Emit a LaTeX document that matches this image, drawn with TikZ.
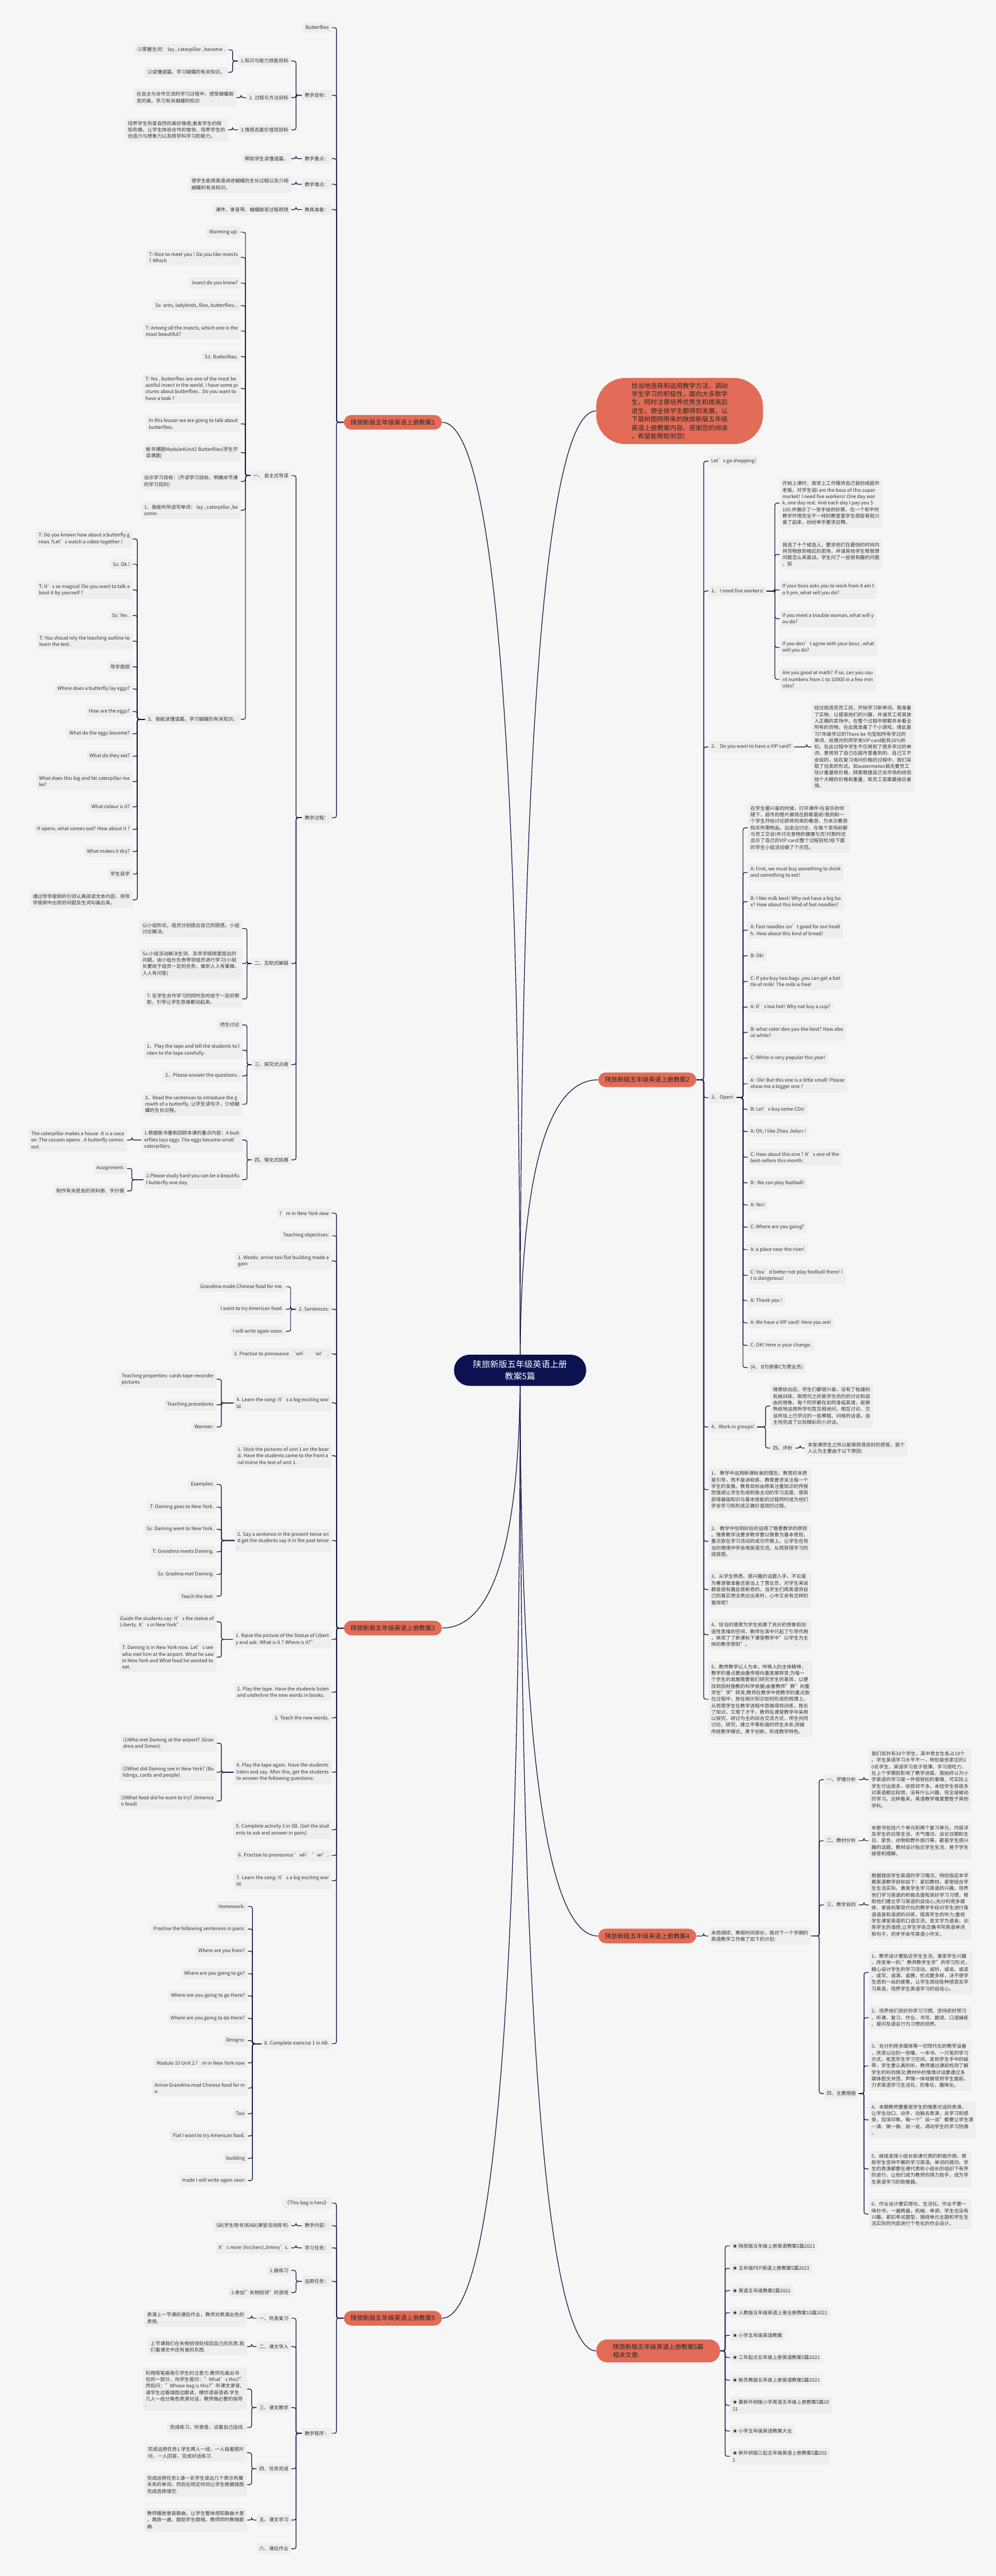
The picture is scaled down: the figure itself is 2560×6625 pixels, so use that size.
\documentclass[tikz,border=0pt]{standalone}
\usepackage{fontspec}
\setmainfont{Noto Sans CJK SC}
\pgfdeclarelayer{bg}
\pgfsetlayers{bg,main}

\definecolor{bgc}{HTML}{F6F6F6}
\definecolor{boxc}{HTML}{EEEEEE}
\definecolor{navy}{HTML}{0C1250}
\definecolor{linec}{HTML}{1C2150}
\definecolor{redc}{HTML}{E26C57}
\definecolor{txt}{HTML}{333333}

\tikzset{
  leaf/.style={fill=boxc, rounded corners=2.5pt, inner xsep=4pt, inner ysep=4.6pt,
    align=left, text=txt, font=\fontsize{7.1}{9.5}\selectfont},
  topic/.style={fill=redc, rounded corners=11pt, inner xsep=10pt, inner ysep=6.5pt,
    text=black!85, font=\fontsize{9.1}{12.2}\selectfont},
  link/.style={draw=linec, line width=1.1pt, rounded corners=3pt},
  trunk/.style={draw=linec, line width=1.1pt},
}

\begin{document}
\begin{tikzpicture}[x=0.02cm,y=-0.02cm]
\useasboundingbox (0,0) rectangle (2560,6625);

% centre and intro
\node[fill=navy, text=white, rounded corners=0.8cm, minimum width=6.8cm, minimum height=1.6cm,
  align=center, font=\fontsize{12.5}{16.7}\selectfont] (root) at (1337,3524) {陕旅新版五年级英语上册\\教案5篇};
\node[fill=redc, rounded corners=1.5cm, minimum width=8.58cm, minimum height=3.4cm, align=left,
  text=black!85, font=\fontsize{9.4}{12.3}\selectfont] (intro) at (1747,1057)
  {恰当地选择和运用教学方法，调动\\学生学习的积极性，面向大多数学\\生，同时注意培养优秀生和提高后\\进生，使全体学生都得到发展。以\\下是树图网带来的陕旅新版五年级\\英语上册教案内容，感谢您的阅读\\，希望能帮助到您!};

% ---- 教案1 ----
\node[topic] (lp1) at (1010,1086) {陕旅新版五年级英语上册教案1};
\node[leaf,anchor=east] (b1n1) at (853,71) {Butterflies};
\node[leaf,anchor=east] (b1n2) at (853,245) {教学目标：};
\node[leaf,anchor=east] (b1n3) at (853,408) {教学重点：};
\node[leaf,anchor=east] (b1n4) at (853,474) {教学难点：};
\node[leaf,anchor=east] (b1n5) at (853,539) {教具准备：};
\node[leaf,anchor=east] (b1n6) at (853,2103) {教学过程：};
\node[leaf,anchor=east] (g1) at (749,157) {1.知识与能力技能目标};
\node[leaf,anchor=east] (g2) at (749,251) {2. 过程与方法目标};
\node[leaf,anchor=east] (g3) at (749,334) {3.情感态度价值观目标};
\node[leaf,anchor=east] (g1a) at (586,128) {⑴掌握生词：\ lay , caterpillar , become .};
\node[leaf,anchor=east] (g1b) at (586,186) {⑵读懂语篇，学习蝴蝶的有关知识。};
\node[leaf,anchor=east] (g2a) at (608,251) {在自主与合作交流的学习过程中，感受蝴蝶蜕\\变的美，学习有关蝴蝶的知识};
\node[leaf,anchor=east] (g3a) at (586,334) {培养学生热爱自然的美好情感;激发学生的探\\知热情，让学生体验合作的愉快，培养学生的\\创造力与想象力以及跨学科学习的能力。};
\node[leaf,anchor=east] (b1n3a) at (749,408) {帮助学生读懂语篇。};
\node[leaf,anchor=east] (b1n4a) at (749,474) {使学生能用英语讲述蝴蝶的生长过程以及介绍\\蝴蝶的有关知识。};
\node[leaf,anchor=east] (b1n5a) at (749,539) {课件、录音带、蝴蝶蜕变过程视频};
\node[leaf,anchor=east] (s1) at (749,1223) {一、\ 自主式导读};
\node[leaf,anchor=east] (s2) at (749,2478) {二、互助式解疑};
\node[leaf,anchor=east] (s3) at (749,2738) {三、探究式点拨};
\node[leaf,anchor=east] (s4) at (749,2983) {四、强化式拓展};
\node[leaf,anchor=east] (w1) at (619,597) {Warming up:};
\node[leaf,anchor=east] (w2) at (619,662) {T: Nice to meet you ! Do you like insects\\? Which};
\node[leaf,anchor=east] (w3) at (619,728) {insect do you know?};
\node[leaf,anchor=east] (w4) at (619,786) {Ss: ants, ladybirds, flies, butterflies...};
\node[leaf,anchor=east] (w5) at (619,851) {T: Among all the insects, which one is the\\ most beautiful?};
\node[leaf,anchor=east] (w6) at (619,917) {S1: Butterflies.};
\node[leaf,anchor=east] (w7) at (619,999) {T: Yes , butterflies are one of the most be\\autiful insect in the world. I have some pi\\ctures about butterflies . Do you want to\\have a look ?};
\node[leaf,anchor=east] (w8) at (619,1090) {In this lesson we are going to talk about\\butterflies.};
\node[leaf,anchor=east] (w9) at (619,1164) {板书课题Module4Unit2 Butterflies(学生齐\\读课题)};
\node[leaf,anchor=east] (w10) at (619,1238) {出示学习目标：(齐读学习目标，明确本节课\\的学习目的)};
\node[leaf,anchor=east] (w11) at (619,1312) {1、我能听所读写单词：\ lay , caterpillar ,be\\come .};
\node[leaf,anchor=east] (w12) at (619,1850) {2、我能读懂语篇，学习蝴蝶的有关知识。};
\node[leaf,anchor=east] (v1) at (341,1386) {T: Do you known how about a butterfly g\\rows ?Let’s watch a video together !};
\node[leaf,anchor=east] (v2) at (341,1451) {Ss: Ok !};
\node[leaf,anchor=east] (v3) at (341,1517) {T: It’s so magical !Do you want to talk a\\bout it by yourself ?};
\node[leaf,anchor=east] (v4) at (341,1583) {Ss: Yes .};
\node[leaf,anchor=east] (v5) at (341,1649) {T: You shoud rely the teaching outline to\\learn the text .};
\node[leaf,anchor=east] (v6) at (341,1715) {导学提纲};
\node[leaf,anchor=east] (v7) at (341,1772) {Where does a butterfly lay eggs?};
\node[leaf,anchor=east] (v8) at (341,1830) {How are the eggs?};
\node[leaf,anchor=east] (v9) at (341,1887) {What do the eggs become?};
\node[leaf,anchor=east] (v10) at (341,1945) {What do they eat?};
\node[leaf,anchor=east] (v11) at (341,2010) {What does this big and fat caterpillar ma\\ke?};
\node[leaf,anchor=east] (v12) at (341,2075) {What colour is it?};
\node[leaf,anchor=east] (v13) at (341,2133) {It opens, what comes out? How about it ?};
\node[leaf,anchor=east] (v14) at (341,2190) {What makes it dry?};
\node[leaf,anchor=east] (v15) at (341,2248) {学生自学};
\node[leaf,anchor=east] (v16) at (341,2314) {通过导学提纲的引领认真阅读文本内容，将导\\学提纲中出现的问题及生词勾画出来。};
\node[leaf,anchor=east] (x1) at (623,2388) {以小组形式，组员分别提出自己的困惑，小组\\讨论解决。};
\node[leaf,anchor=east] (x2) at (623,2478) {Ss:小组活动解决生词、及导学提纲里提出的\\问题。由小组长负责带领组员进行学习(小组\\长要给于组员一定的任务，做到人人有事做、\\人人有问答)};
\node[leaf,anchor=east] (x3) at (623,2569) {T: 在学生合作学习的同时及时给于一定的帮\\助，引导让学生思维都动起来。};
\node[leaf,anchor=east] (y1) at (623,2636) {师生讨论};
\node[leaf,anchor=east] (y2) at (623,2701) {1、Play the tape and tell the students to l\\isten to the tape carefully .};
\node[leaf,anchor=east] (y3) at (623,2767) {2、Please answer the questions .};
\node[leaf,anchor=east] (y4) at (623,2840) {3、Read the sentences to introduce the g\\rowth of a butterfly..让学生读句子，介绍蝴\\蝶的生长过程。};
\node[leaf,anchor=east] (t1) at (623,2932) {1.根据板书重新回顾本课的重点内容：A butt\\erflies lays eggs .The eggs become small\\caterpillars.};
\node[leaf,anchor=east] (t2) at (623,3034) {2.Please study hard you can be a beautifu\\l butterfly one day.};
\node[leaf,anchor=east] (t1a) at (327,2932) {The caterpillar makes a house .It is a coco\\on .The cocoon opens . A butterfly comes\\ out.};
\node[leaf,anchor=east] (t2a) at (327,3005) {Assignment:};
\node[leaf,anchor=east] (t2b) at (327,3063) {制作有关昆虫的资料册、手抄报};

% ---- 教案3 ----
\node[topic] (lp3) at (1010,4187) {陕旅新版五年级英语上册教案3};
\node[leaf,anchor=east] (c1) at (853,3120) {I'm in New York now};
\node[leaf,anchor=east] (c2) at (853,3178) {Teaching objectives:};
\node[leaf,anchor=east] (c3) at (853,3243) {1. Words: arrive taxi flat building made a\\gain};
\node[leaf,anchor=east] (c4) at (853,3367) {2. Sentences:};
\node[leaf,anchor=east] (c5) at (853,3482) {3. Practise to pronounce\ \ ‘wh’\ \ \ ‘wr’ .};
\node[leaf,anchor=east] (c6) at (853,3608) {4. Learn the song: It’s a big exciting wor\\ld.};
\node[leaf,anchor=east] (c7) at (853,3744) {1. Stick the pictures of unit 1 on the boar\\d. Have the students come to the front a\\nd mime the text of unit 1.};
\node[leaf,anchor=east] (c8) at (853,3962) {2. Say a sentence in the present tense an\\d get the students say it in the past tense\\.};
\node[leaf,anchor=east] (c9) at (853,4216) {1. Raise the picture of the Statue of Libert\\y and ask: What is it ? Where is it?"};
\node[leaf,anchor=east] (c10) at (853,4352) {2. Play the tape. Have the students listen\\and underline the new words in books.};
\node[leaf,anchor=east] (c11) at (853,4418) {3. Teach the new words.};
\node[leaf,anchor=east] (c12) at (853,4558) {4. Play the tape again. Have the students\\listen and say. After this, get the students\\ to answer the following questions:};
\node[leaf,anchor=east] (c13) at (853,4706) {5. Complete activity 2 in SB. (Get the stud\\ents to ask and answer in pairs)};
\node[leaf,anchor=east] (c14) at (853,4772) {6. Practise to pronounce 'wh' 'wr'.};
\node[leaf,anchor=east] (c15) at (853,4837) {7. Learn the song: It’s a big exciting wor\\ld.};
\node[leaf,anchor=east] (c16) at (853,5256) {8. Complete exercise 1 in AB.};
\node[leaf,anchor=east] (c4a) at (735,3309) {Grandma made Chinese food for me.};
\node[leaf,anchor=east] (c4b) at (735,3367) {I want to try American food.};
\node[leaf,anchor=east] (c4c) at (735,3424) {I will write again soon.};
\node[leaf,anchor=east] (c6a) at (557,3547) {Teaching properties: cards tape-recorder\\pictures};
\node[leaf,anchor=east] (c6b) at (557,3613) {Teaching procedures};
\node[leaf,anchor=east] (c6c) at (557,3670) {Warmer:};
\node[leaf,anchor=east] (c8a) at (557,3818) {Examples:};
\node[leaf,anchor=east] (c8b) at (557,3876) {T: Daming goes to New York.};
\node[leaf,anchor=east] (c8c) at (557,3933) {Ss: Daming went to New York.};
\node[leaf,anchor=east] (c8d) at (557,3991) {T: Grandma meets Daming.};
\node[leaf,anchor=east] (c8e) at (557,4049) {Ss: Gradma met Daming.};
\node[leaf,anchor=east] (c8f) at (557,4105) {Teach the text:};
\node[leaf,anchor=east] (c9a) at (557,4171) {Guide the students say: It’s the statue of\\ Liberty. It’s in New York".};
\node[leaf,anchor=east] (c9b) at (557,4262) {T: Daming is in New York now. Let’s see\\who met him at the airport. What he saw\\in New York and What food he wanted to\\ eat.};
\node[leaf,anchor=east] (c12a) at (557,4483) {⑴Who met Daming at the airport? (Gran\\dma and Simon)};
\node[leaf,anchor=east] (c12b) at (557,4558) {⑵What did Daming see in New York? (Bu\\ildings, cards and people)};
\node[leaf,anchor=east] (c12c) at (557,4632) {⑶What food did he want to try? (America\\n food)};
\node[leaf,anchor=east] (h1) at (637,4903) {Homework:};
\node[leaf,anchor=east] (h2) at (637,4961) {Practise the following sentences in pairs:};
\node[leaf,anchor=east] (h3) at (637,5018) {Where are you from?};
\node[leaf,anchor=east] (h4) at (637,5076) {Where are you going to go?};
\node[leaf,anchor=east] (h5) at (637,5133) {Where are you going to go there?};
\node[leaf,anchor=east] (h6) at (637,5191) {Where are you going to do there?};
\node[leaf,anchor=east] (h7) at (637,5248) {Designs:};
\node[leaf,anchor=east] (h8) at (637,5305) {Module 10 Unit 2 I’m in New York now};
\node[leaf,anchor=east] (h9) at (637,5370) {Arrive Grandma mad Chinese food for m\\e.};
\node[leaf,anchor=east] (h10) at (637,5436) {Taxi};
\node[leaf,anchor=east] (h11) at (637,5493) {Flat I want to try American food.};
\node[leaf,anchor=east] (h12) at (637,5551) {building};
\node[leaf,anchor=east] (h13) at (637,5608) {made I will write again soon};

% ---- 教案5 ----
\node[topic] (lp5) at (1010,5962) {陕旅新版五年级英语上册教案5};
\node[leaf,anchor=east] (e1) at (853,5666) {《This bag is hers》};
\node[leaf,anchor=east] (e2) at (853,5724) {教学内容：};
\node[leaf,anchor=east] (e3) at (853,5781) {学习任务：};
\node[leaf,anchor=east] (e4) at (853,5867) {运用任务：};
\node[leaf,anchor=east] (e5) at (853,6258) {教学程序：};
\node[leaf,anchor=east] (e2a) at (749,5724) {SB(学生用书)和AB(课堂活动用书)};
\node[leaf,anchor=east] (e3a) at (749,5781) {It’s mine \textbackslash his\textbackslash hers\textbackslash Jimmy’s.};
\node[leaf,anchor=east] (e4a) at (749,5839) {1.做练习};
\node[leaf,anchor=east] (e4b) at (749,5896) {2.参加"失物招领"的游戏};
\node[leaf,anchor=east] (f1) at (749,5962) {一、热身复习};
\node[leaf,anchor=east] (f2) at (749,6035) {二、课文导入};
\node[leaf,anchor=east] (f3) at (749,6192) {三、课文教学};
\node[leaf,anchor=east] (f4) at (749,6349) {四、任务完成};
\node[leaf,anchor=east] (f5) at (749,6481) {五、课文学习};
\node[leaf,anchor=east] (f6) at (749,6555) {六、课后作业};
\node[leaf,anchor=east] (f1a) at (635,5962) {表演上一节课的课后作业，教师对表演出色的\\表扬.};
\node[leaf,anchor=east] (f2a) at (635,6035) {上节课我们在失物招领处找回自己的东西.我\\们看课文中还有谁的东西.};
\node[leaf,anchor=east] (f3a) at (635,6144) {利用简笔画吸引学生的注意力.教师先画出书\\包的一部分，向学生提问："What’s this?"\\然后问："Whose bag is this?"听课文录音,\\请学生边看插图边跟读，模仿语音语调.学生\\几人一组分角色表演对话，教师做必要的指导\\.};
\node[leaf,anchor=east] (f3b) at (635,6243) {完成练习，听录音，试着自己连线.};
\node[leaf,anchor=east] (f4a) at (635,6308) {完成运用任务1.学生两人一组，一人指着图片\\问，一人回答，完成对话练习.};
\node[leaf,anchor=east] (f4b) at (635,6390) {完成运用任务3.请一名学生读出几个表示所属\\关系的单词，然后在规定时间让学生根据插图\\完成选择填空.};
\node[leaf,anchor=east] (f5a) at (635,6481) {教师播放录音歌曲，让学生整体感知歌曲大意\\，再放一遍，鼓励学生跟唱，教师同时教唱歌\\曲.};

% ---- 教案2 ----
\node[topic] (lp2) at (1664,2777) {陕旅新版五年级英语上册教案2};
\node[leaf,anchor=west] (r1) at (1821,1186) {Let's go shopping!};
\node[leaf,anchor=west] (r2) at (1821,1520) {1、\ I need five workers!};
\node[leaf,anchor=west] (r3) at (1821,1921) {2、\ Do you want to have a VIP card?};
\node[leaf,anchor=west] (r4) at (1821,2823) {3、\ Open!};
\node[leaf,anchor=west] (r5) at (1821,3670) {4、Work in groups!};
\node[leaf,anchor=west] (r6) at (1821,3831) {1、 教学中运用新课标准的理念。教育的本质\\是引导，而不是讲和练，教育要求关注每一个\\学生的发展。教育目标由原来注重知识的传授\\而强调让学生形成积极主动的学习态度，使其\\获得基础知识与基本技能的过程同时成为他们\\学会学习和形成正确价值观的过程。};
\node[leaf,anchor=west] (r7) at (1821,3964) {2、 教学中恰到好处的运用了情景教学的原则\\。情景教学法要求教学要以情景为基本原则，\\重点放在学习活动的成功开展上。让学生在恰\\当的情境中学会用英语交流，从而获得学习的\\成就感。};
\node[leaf,anchor=west] (r8) at (1821,4088) {3、从学生熟悉、感兴趣的话题入手。不论是\\为春游做准备还是当上了营业员，对学生来说\\都是很有趣且很新奇的，当学生们用英语将自\\己的真实想法表达出来时，心中又会有怎样的\\喜悦呢?};
\node[leaf,anchor=west] (r9) at (1821,4204) {4、恰当的情景为学生拓展了充分的想象和创\\造性思维的空间，教师在其中只起了引导作用\\，体现了了新课标下课堂教学中"以学生为主\\体的教学原则"。};
\node[leaf,anchor=west] (r10) at (1821,4370) {5、教师教学以人为本，呼唤人的主体精神，\\教学的重点要由重传授向重发展转变;为每一\\个学生的发展需要我们研究学生的差异，以便\\找到因材施教的科学依据;由重教师"教"向重\\学生"学"转变;教师在教学中把教学的重点放\\在过程中，放在揭示知识如何形成的规律上，\\从而使学生在教学进程中思维得到训练，既长\\了知识，又增了才干。教师在课堂教学中采用\\以探究、研讨为主的综合交流方式，师生共同\\讨论、研究，建立平等和谐的师生关系;突破\\传统教学模式，勇于创新，形成教学特色。};
\node[leaf,anchor=west] (r2a) at (2004,1294) {开始上课时，我穿上工作服将自己装扮成超市\\老板。对学生说I am the boss of this super\\market! I need five workers! One day wor\\k, one day rest. And each day I pay you \$\\100.并展示了一张手绘的钞票。在一个和平时\\教学环境完全不一样的教室里学生很容易就兴\\奋了起来，纷纷举手要求应聘。};
\node[leaf,anchor=west] (r2b) at (2004,1426) {我选了十个候选人，要求他们在最快的时间内\\将货物放到相应的卖场，并请其他学生帮我想\\问题怎么来面试。学生问了一些很有趣的问题\\，如};
\node[leaf,anchor=west] (r2c) at (2004,1517) {If your boss asks you to work from 8 am t\\o 9 pm, what will you do?};
\node[leaf,anchor=west] (r2d) at (2004,1591) {If you meet a trouble woman, what will y\\ou do?};
\node[leaf,anchor=west] (r2e) at (2004,1665) {If you don’t agree with your boss , what\\ will you do?};
\node[leaf,anchor=west] (r2f) at (2004,1747) {Are you good at math? If so, can you cou\\nt numbers from 1 to 10000 in a few min\\utes?};
\node[leaf,anchor=west] (r3a) at (2086,1921) {经过挑选完员工后，开始学习新单词。我准备\\了实物，以提高他们的兴趣，并请员工将其放\\入正确的卖场中。在整个过程中顾客并未看全\\所有的货物。在此我准备了个小游戏，借此复\\习7年级学过的There be 句型和所有学过的\\单词，给猜对的同学发VIP card能有20\%折\\扣。在此过程中学生不仅用到了很多学过的单\\词，更用到了自己在超市里看到的、自己又不\\会说的，如在复习询问价格的过程中，我们采\\取了估卖的形式。如watermelon首先要员工\\估计重量和价格，顾客根据自己去市场的经验\\给个大概的价格和重量，和员工答案最接近者\\得。};
\node[leaf,anchor=west] (o1) at (1922,2129) {在学生最兴奋的时候，打开课件!在音乐的伴\\随下，超市的图片展现在顾客面前!我则和一\\个学生开始讨论即将到来的春游，为本次春游\\购买所需物品。边走边讨论，在每个卖场前都\\与员工交谈!并讨论食物的健康与否!付款时还\\出示了自己的VIP card!整个过程轻松!给下面\\的学生小组活动做了个示范。};
\node[leaf,anchor=west] (o2) at (1922,2244) {A: First, we must buy something to drink\\and something to eat!};
\node[leaf,anchor=west] (o3) at (1922,2319) {B: I like milk best! Why not have a big bo\\x? How about this kind of fast noodles?};
\node[leaf,anchor=west] (o4) at (1922,2392) {A: Fast noodles isn’t good for our healt\\h. How about this kind of bread!};
\node[leaf,anchor=west] (o5) at (1922,2458) {B: Ok!};
\node[leaf,anchor=west] (o6) at (1922,2524) {C: If you buy two bags ,you can get a bot\\tle of milk! The milk is free!};
\node[leaf,anchor=west] (o7) at (1922,2590) {A: It’s too hot! Why not buy a cup?};
\node[leaf,anchor=west] (o8) at (1922,2655) {B: what color don you like best? How abo\\ut white?};
\node[leaf,anchor=west] (o9) at (1922,2721) {C: White is very popular this year!};
\node[leaf,anchor=west] (o10) at (1922,2787) {A : Ok! But this one is a little small! Please\\ show me a bigger one ?};
\node[leaf,anchor=west] (o11) at (1922,2853) {B: Let’s buy some CDs!};
\node[leaf,anchor=west] (o12) at (1922,2910) {A: Oh, I like Zhou Jielun !};
\node[leaf,anchor=west] (o13) at (1922,2976) {C: How about this one ? It’s one of the\\best-sellers this month.};
\node[leaf,anchor=west] (o14) at (1922,3042) {B : We can play football!};
\node[leaf,anchor=west] (o15) at (1922,3099) {A: Yes!};
\node[leaf,anchor=west] (o16) at (1922,3156) {C: Where are you going?};
\node[leaf,anchor=west] (o17) at (1922,3214) {A: a place near the river!};
\node[leaf,anchor=west] (o18) at (1922,3280) {C: You’d better not play football there! I\\t is dangerous!};
\node[leaf,anchor=west] (o19) at (1922,3345) {A: Thank you !};
\node[leaf,anchor=west] (o20) at (1922,3402) {A: We have a VIP card! Here you are!};
\node[leaf,anchor=west] (o21) at (1922,3460) {C: OK! Here is your change.};
\node[leaf,anchor=west] (o22) at (1922,3517) {(A、 B为顾客C为营业员)};
\node[leaf,anchor=west] (r5a) at (1980,3616) {情景给出后，学生们都很兴奋，没有了枯燥的\\机械训练，取而代之的是学生热烈的讨论和自\\由的想象。每个同学都在如同身临其境，能够\\熟练地运用所学句型互相询问，相互讨论、交\\谈并加上已学过的一些寒暄、问候的话语，自\\主地完成了比较精彩的小对话。};
\node[leaf,anchor=west] (r5b) at (1980,3724) {四、评析};
\node[leaf,anchor=west] (r5c) at (2069,3724) {本堂课师生之所以能够获得良好的感受，我个\\人认为主要由于以下原因:};

% ---- 教案4 ----
\node[topic] (lp4) at (1664,4979) {陕旅新版五年级英语上册教案4};
\node[leaf,anchor=west] (q0) at (1821,4979) {未雨绸缪，寒假时间很长，我对下一个学期的\\英语教学工作做了如下的计划:};
\node[leaf,anchor=west] (q1) at (2118,4577) {一、学情分析};
\node[leaf,anchor=west] (q2) at (2118,4734) {二、教材分析};
\node[leaf,anchor=west] (q3) at (2118,4899) {三、教学目的};
\node[leaf,anchor=west] (q4) at (2118,5384) {四、主要措施};
\node[leaf,anchor=west] (q1a) at (2233,4577) {我们班共有38个学生，其中男女生各占19个\\。学生英语学习水平不一，特别是张家庄的1\\0名学生，英语学习底子很薄，学习很吃力，\\在上个学期就影响了教学进度。我始终认为小\\学英语的学习是一件很轻松的事情，可实际上\\学生付出很多，收获却不多。本班学生有很多\\对英语都比较烦，没有什么兴趣，完全是被动\\的学习。这样看来，英语教学难度要胜于其他\\学科。};
\node[leaf,anchor=west] (q2a) at (2233,4734) {本册书包括六个单元和两个复习单元，内容涉\\及学生的日常生活、天气情况、谈论日期和生\\日、家务、动物和野外旅行等，都是学生感兴\\趣的话题。教材设计贴近学生生活，易于学生\\接受和理解。};
\node[leaf,anchor=west] (q3a) at (2233,4899) {根据我班学生英语的学习情况，特别指定本学\\期英语教学目标如下：紧扣教材，紧密结合学\\生生活实际，激发学生学习英语的兴趣，培养\\他们学习英语的积极态度和良好学习习惯，帮\\助他们建立学习英语的自信心;充分利用多媒\\体、录音机等现代化的教学手段对学生进行英\\语语音和语调的训练，提高学生的听力;重视\\学生课堂英语的口语交流，变文字为语音，训\\练学生的语感;让学生学会正确书写英语单词\\和句子，初步学会写英语小作文。};
\node[leaf,anchor=west] (q4a) at (2233,5073) {1、教学设计要贴近学生生活，激发学生兴趣\\。改变单一的."教师教学生学"的学习形式，\\精心设计学生的学习活动。或听、或说、或读\\、或写、或演、或赛，形式要多样，决不使学\\生感到一丝的疲惫。让学生调动各种感官去学\\习英语，培养学生英语学习的自信心。};
\node[leaf,anchor=west] (q4b) at (2233,5189) {2、培养他们良好的学习习惯。坚持抓好预习\\、听课、复习、作业、书写、朗读、口语操练\\、提问及语言行为习惯的培养。};
\node[leaf,anchor=west] (q4c) at (2233,5313) {3、充分利用多媒体等一切现代化的教学设备\\，改变以往的一张嘴、一本书、一只笔的学习\\方式，拓宽学生学习空间。发到学生手中的磁\\带，学生要认真的听，教师通过课前检测了解\\学生的听的情况;教材中的情境对话要通过多\\媒体图文并茂、声情一体地展现到学生面前。\\力求英语学习生活化、形象化、趣味化。};
\node[leaf,anchor=west] (q4d) at (2233,5452) {4、本期教师要重视学生的情景对话的表演，\\让学生动口、动手、动脑去表演，去学习和感\\受，加深印象。每一个"谈一谈"都要让学生演\\一演、做一做、说一说，调动学生的学习热情\\。};
\node[leaf,anchor=west] (q4e) at (2233,5578) {5、继续发挥小组长和课代表的积极作用，帮\\助学生坚持不懈的学习英语。单词的提问、学\\生的表演都要在课代表和小组长的组织下有序\\的进行，让他们成为教师的得力助手，成为学\\生英语学习的助推器。};
\node[leaf,anchor=west] (q4f) at (2233,5694) {6、作业设计要实用化、生活化。作业不要一\\味抄书，一遍两遍，机械、单调，学生也没有\\兴趣。紧扣考试题型，围绕单元主题和学生生\\活实际的内容进行个性化的作业设计。};

% ---- related ----
\node[topic, align=left, rounded corners=16pt, minimum width=6.36cm, minimum height=1.18cm] (rel) at (1692,6046) {陕旅新版五年级英语上册教案5篇\\相关文章:};
\node[leaf,anchor=west] (k1) at (1876,5776) {★ 陕旅版五年级上册英语教案5篇2021};
\node[leaf,anchor=west] (k2) at (1876,5834) {★ 五年级PEP英语上册教案5篇2021};
\node[leaf,anchor=west] (k3) at (1876,5891) {★ 英语五年级教案5篇2021};
\node[leaf,anchor=west] (k4) at (1876,5948) {★ 人教版五年级英语上册全册教案15篇2021};
\node[leaf,anchor=west] (k5) at (1876,6006) {★ 小学五年级英语教案};
\node[leaf,anchor=west] (k6) at (1876,6063) {★ 三年起点五年级上册英语教案5篇2021};
\node[leaf,anchor=west] (k7) at (1876,6121) {★ 新苏教版五年级上册英语教案5篇2021};
\node[leaf,anchor=west] (k8) at (1876,6186) {★ 最新外研版小学英语五年级上册教案5篇20\\21};
\node[leaf,anchor=west] (k9) at (1876,6252) {★ 小学五年级英语教案大全};
\node[leaf,anchor=west] (k10) at (1876,6317) {★ 新外研版三起五年级英语上册教案5篇202\\1};

\begin{pgfonlayer}{bg}
\fill[bgc] (0,0) rectangle (2560,6625);
% curves out of the centre
\draw[trunk] (root.center) .. controls (1337,1574) and (1238,1086) .. (lp1.east);
\draw[trunk] (root.center) .. controls (1337,4054) and (1238,4187) .. (lp3.east);
\draw[trunk] (root.center) .. controls (1337,5474) and (1238,5962) .. (lp5.east);
\draw[trunk] (root.center) .. controls (1337,1550) and (1435,1057) .. (intro.west);
\draw[trunk] (root.center) .. controls (1337,2926) and (1435,2777) .. (lp2.west);
\draw[trunk] (root.center) .. controls (1337,4688) and (1435,4979) .. (lp4.west);
\draw[trunk] (root.center) .. controls (1337,5542) and (1435,6046) .. (rel.west);
% left brackets
\foreach \src/\dst in {lp1/b1n1,lp1/b1n2,lp1/b1n3,lp1/b1n4,lp1/b1n5,lp1/b1n6,
  b1n2/g1,b1n2/g2,b1n2/g3,g1/g1a,g1/g1b,g2/g2a,g3/g3a,b1n3/b1n3a,b1n4/b1n4a,b1n5/b1n5a,
  b1n6/s1,b1n6/s2,b1n6/s3,b1n6/s4,
  s1/w1,s1/w2,s1/w3,s1/w4,s1/w5,s1/w6,s1/w7,s1/w8,s1/w9,s1/w10,s1/w11,s1/w12,
  w12/v1,w12/v2,w12/v3,w12/v4,w12/v5,w12/v6,w12/v7,w12/v8,w12/v9,w12/v10,w12/v11,w12/v12,w12/v13,w12/v14,w12/v15,w12/v16,
  s2/x1,s2/x2,s2/x3,s3/y1,s3/y2,s3/y3,s3/y4,s4/t1,s4/t2,t1/t1a,t2/t2a,t2/t2b,
  lp3/c1,lp3/c2,lp3/c3,lp3/c4,lp3/c5,lp3/c6,lp3/c7,lp3/c8,lp3/c9,lp3/c10,lp3/c11,lp3/c12,lp3/c13,lp3/c14,lp3/c15,lp3/c16,
  c4/c4a,c4/c4b,c4/c4c,c6/c6a,c6/c6b,c6/c6c,c8/c8a,c8/c8b,c8/c8c,c8/c8d,c8/c8e,c8/c8f,c9/c9a,c9/c9b,c12/c12a,c12/c12b,c12/c12c,
  c16/h1,c16/h2,c16/h3,c16/h4,c16/h5,c16/h6,c16/h7,c16/h8,c16/h9,c16/h10,c16/h11,c16/h12,c16/h13,
  lp5/e1,lp5/e2,lp5/e3,lp5/e4,lp5/e5,e2/e2a,e3/e3a,e4/e4a,e4/e4b,
  e5/f1,e5/f2,e5/f3,e5/f4,e5/f5,e5/f6,f1/f1a,f2/f2a,f3/f3a,f3/f3b,f4/f4a,f4/f4b,f5/f5a}
  \draw[link] (\src.west) -| ([xshift=0.24cm]\dst.east) -- (\dst.east);
% right brackets
\foreach \src/\dst in {lp2/r1,lp2/r2,lp2/r3,lp2/r4,lp2/r5,lp2/r6,lp2/r7,lp2/r8,lp2/r9,lp2/r10,
  r2/r2a,r2/r2b,r2/r2c,r2/r2d,r2/r2e,r2/r2f,r3/r3a,
  r4/o1,r4/o2,r4/o3,r4/o4,r4/o5,r4/o6,r4/o7,r4/o8,r4/o9,r4/o10,r4/o11,r4/o12,r4/o13,r4/o14,r4/o15,r4/o16,r4/o17,r4/o18,r4/o19,r4/o20,r4/o21,r4/o22,
  r5/r5a,r5/r5b,r5b/r5c,
  lp4/q0,q0/q1,q0/q2,q0/q3,q0/q4,q1/q1a,q2/q2a,q3/q3a,q4/q4a,q4/q4b,q4/q4c,q4/q4d,q4/q4e,q4/q4f,
  rel/k1,rel/k2,rel/k3,rel/k4,rel/k5,rel/k6,rel/k7,rel/k8,rel/k9,rel/k10}
  \draw[link] (\src.east) -| ([xshift=-0.24cm]\dst.west) -- (\dst.west);
\end{pgfonlayer}
\end{tikzpicture}
\end{document}
